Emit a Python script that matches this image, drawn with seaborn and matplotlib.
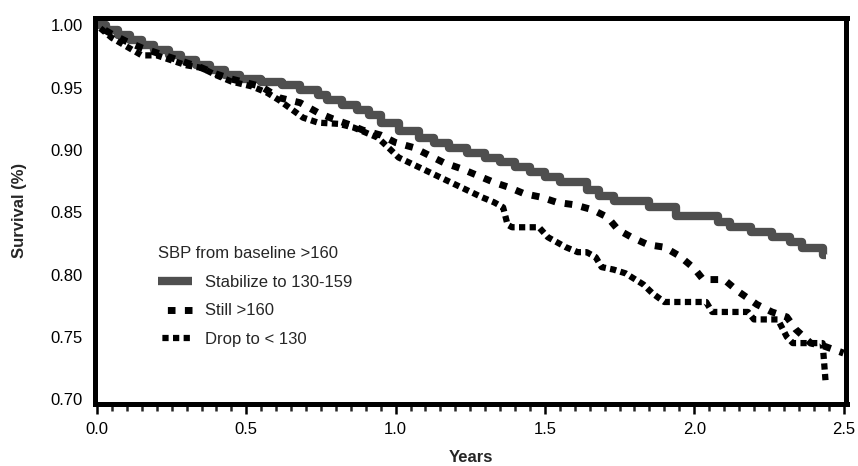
import matplotlib
matplotlib.use("Agg")
import matplotlib.pyplot as plt
from matplotlib.ticker import MultipleLocator, FormatStrFormatter
import seaborn as sns
import pandas as pd

# ---------------- data ----------------
stab_t = [0.00, 0.03, 0.07, 0.11, 0.15, 0.19, 0.24, 0.28, 0.33, 0.38, 0.43, 0.48,
          0.55, 0.62, 0.68, 0.74, 0.77, 0.82, 0.87, 0.91, 0.95, 1.01, 1.08, 1.13,
          1.18, 1.24, 1.30, 1.35, 1.40, 1.45, 1.50, 1.55, 1.64, 1.68, 1.73, 1.85,
          1.94, 2.08, 2.12, 2.19, 2.26, 2.32, 2.36, 2.43, 2.44]
stab_s = [1.000, 0.996, 0.992, 0.988, 0.984, 0.980, 0.976, 0.972, 0.968, 0.964, 0.960, 0.957,
          0.955, 0.952, 0.948, 0.944, 0.940, 0.936, 0.932, 0.928, 0.922, 0.915, 0.910, 0.906,
          0.902, 0.898, 0.894, 0.890, 0.886, 0.882, 0.878, 0.874, 0.868, 0.863, 0.859, 0.854,
          0.847, 0.842, 0.838, 0.834, 0.830, 0.826, 0.821, 0.816, 0.816]

still_t = [0.00, 0.05, 0.10, 0.15, 0.20, 0.25, 0.30, 0.35, 0.40, 0.45, 0.50, 0.55,
           0.61, 0.68, 0.74, 0.79, 0.85, 0.89, 0.95, 1.00, 1.06, 1.11, 1.16, 1.22,
           1.27, 1.33, 1.38, 1.43, 1.49, 1.54, 1.60, 1.66, 1.71, 1.745, 1.79, 1.845,
           1.90, 1.95, 2.00, 2.03, 2.10, 2.15, 2.21, 2.26, 2.31, 2.34, 2.39, 2.43, 2.50]
still_s = [1.000, 0.993, 0.987, 0.982, 0.978, 0.974, 0.970, 0.966, 0.961, 0.957, 0.954, 0.951,
           0.942, 0.938, 0.930, 0.925, 0.920, 0.916, 0.912, 0.906, 0.902, 0.896, 0.890, 0.885,
           0.880, 0.874, 0.870, 0.865, 0.862, 0.858, 0.856, 0.852, 0.846, 0.836, 0.830, 0.824,
           0.822, 0.815, 0.805, 0.796, 0.796, 0.786, 0.776, 0.770, 0.766, 0.756, 0.745, 0.743, 0.737]

drop_t = [0.00, 0.05, 0.10, 0.15, 0.20, 0.25, 0.30, 0.35, 0.40, 0.45, 0.52, 0.57,
          0.61, 0.69, 0.74, 0.81, 0.86, 0.94, 0.98, 1.01, 1.08, 1.15, 1.22, 1.29,
          1.33, 1.36, 1.375, 1.39, 1.48, 1.51, 1.54, 1.57, 1.61, 1.64, 1.67, 1.69,
          1.73, 1.77, 1.79, 1.83, 1.86, 1.90, 2.04, 2.06, 2.18, 2.20, 2.28, 2.31,
          2.33, 2.43, 2.44]
drop_s = [1.000, 0.990, 0.983, 0.976, 0.976, 0.972, 0.968, 0.966, 0.960, 0.955, 0.951, 0.946,
          0.940, 0.926, 0.922, 0.921, 0.918, 0.910, 0.901, 0.894, 0.886, 0.878, 0.870, 0.862,
          0.858, 0.854, 0.840, 0.838, 0.838, 0.830, 0.826, 0.822, 0.818, 0.818, 0.814, 0.806,
          0.804, 0.801, 0.798, 0.792, 0.785, 0.778, 0.778, 0.770, 0.770, 0.764, 0.764, 0.750,
          0.745, 0.745, 0.714]

legend_title = "SBP from baseline >160"
series_labels = ["Stabilize to 130-159", "Still >160", "Drop to < 130"]
x_label = "Years"
y_label = "Survival (%)"
x_ticks = [0.0, 0.5, 1.0, 1.5, 2.0, 2.5]
y_ticks = [0.70, 0.75, 0.80, 0.85, 0.90, 0.95, 1.00]

# ---------------- style ----------------
sns.set_style("white")
plt.rcParams['font.family'] = ['Liberation Sans', 'DejaVu Sans']
FS = 12

W, H = 858, 466
fig = plt.figure(figsize=(W / 100, H / 100), dpi=100)
L, R, T, B = 95, 846.5, 18, 403.5
ax = fig.add_axes([L / W, 1 - B / H, (R - L) / W, (B - T) / H])

sns.lineplot(data=pd.DataFrame({"t": stab_t, "s": stab_s}), x="t", y="s", ax=ax,
             estimator=None, sort=False, color="#4f4f4f", linewidth=6,
             drawstyle="steps-post", solid_capstyle="butt", label=series_labels[0])
sns.lineplot(data=pd.DataFrame({"t": still_t, "s": still_s}), x="t", y="s", ax=ax,
             estimator=None, sort=False, color="black", linewidth=5,
             linestyle=(1.1, (1.1, 1.35)), label=series_labels[1])
sns.lineplot(data=pd.DataFrame({"t": drop_t, "s": drop_s}), x="t", y="s", ax=ax,
             estimator=None, sort=False, color="black", linewidth=4.5,
             linestyle=(1.0, (1.0, 0.7)), label=series_labels[2])

ax.set_xlim(-0.0067, 2.51)
ax.set_ylim(0.6965, 1.006)
ax.set_xticks(x_ticks)
ax.set_yticks(y_ticks)
ax.xaxis.set_minor_locator(MultipleLocator(0.05))
ax.xaxis.set_major_formatter(FormatStrFormatter("%.1f"))
ax.yaxis.set_major_formatter(FormatStrFormatter("%.2f"))
ax.tick_params(axis="x", which="major", direction="out", length=7, width=1.8,
               pad=6, labelsize=FS, colors="black", bottom=True)
ax.tick_params(axis="x", which="minor", direction="out", length=5, width=1.8, bottom=True)
ax.tick_params(axis="y", which="both", length=0, pad=9, labelsize=FS, colors="black")

for sp in ax.spines.values():
    sp.set_visible(True)
    sp.set_color("black")
    sp.set_linewidth(3.6)

ax.set_xlabel(x_label, fontsize=FS, fontweight="bold", va="center")
ax.xaxis.set_label_coords(0.5, (B - 457) / (B - T))
ax.set_ylabel(y_label, fontsize=FS, fontweight="bold", va="center")
ax.yaxis.set_label_coords((19 - L) / (R - L), 0.5)

handles, labels = ax.get_legend_handles_labels()
ax.legend(handles, labels, title=legend_title, loc="upper left",
          bbox_to_anchor=((158 - L) / (R - L), (B - 246) / (B - T)),
          frameon=False, fontsize=FS, title_fontsize=FS, handlelength=2.05,
          handletextpad=0.78, labelspacing=0.82, borderpad=0, borderaxespad=0,
          alignment="left")

fig.savefig("out.png", dpi=100)
